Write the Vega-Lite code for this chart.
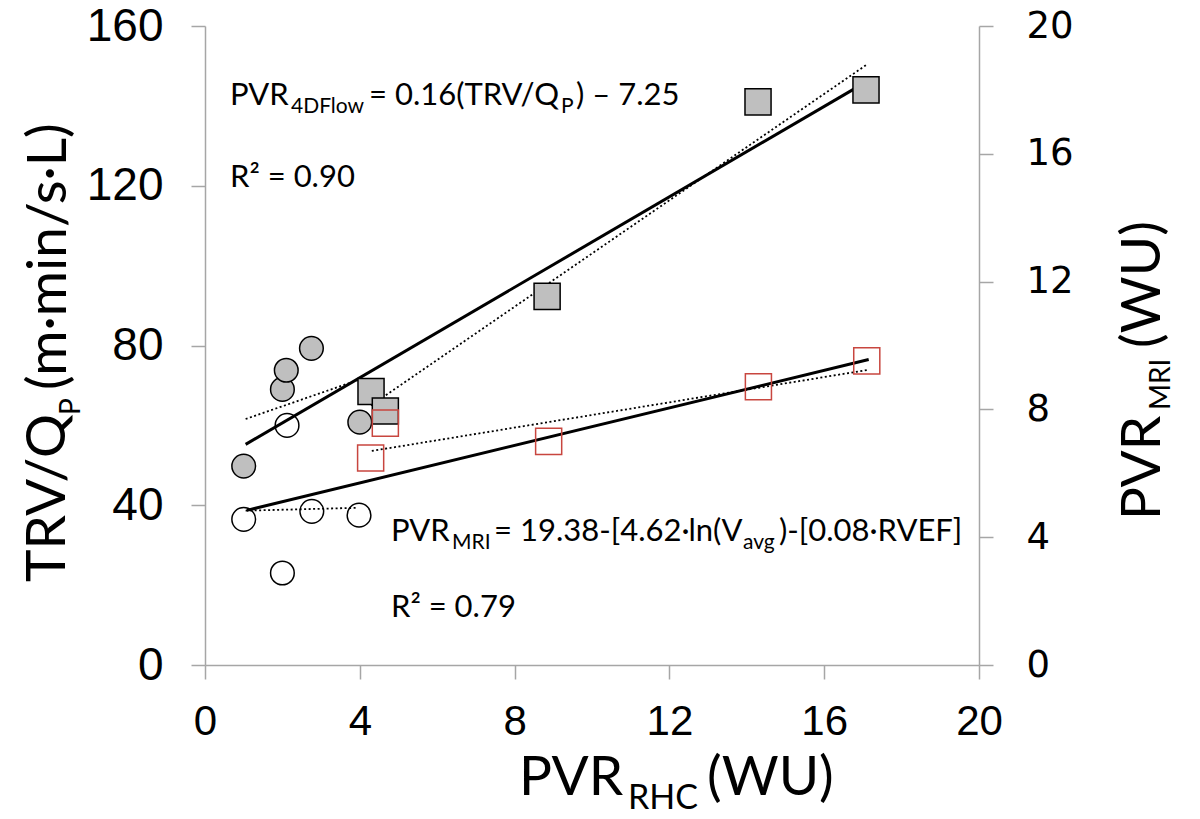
{
"$schema":"https://vega.github.io/schema/vega-lite/v6.json",
"width":774,"height":639,
"autosize":{"type":"none"},
"padding":{"left":205,"top":26,"right":221,"bottom":154},
"background":"white",
"config":{"view":{"stroke":null},"font":"Lato","axis":{"grid":false,"labelColor":"black","domainColor":"#a6a6a6","tickColor":"#a6a6a6","domainWidth":1.5,"tickWidth":1.5,"tickSize":14,"labelFlush":false,"labelOverlap":false,"title":null}},
"datasets":{
"gc":[{"x":1.0,"y":49.8},{"x":2.0,"y":69.0},{"x":2.1,"y":73.8},{"x":2.75,"y":79.3},{"x":4.0,"y":60.8}],
"gs":[{"x":4.29,"y":68.5},{"x":4.66,"y":63.6},{"x":8.84,"y":92.3},{"x":14.29,"y":141.0},{"x":17.08,"y":144.0}],
"oc":[{"x":1.0,"y":4.56},{"x":2.12,"y":7.5},{"x":2.0,"y":2.88},{"x":2.76,"y":4.81},{"x":3.98,"y":4.69}],
"rs":[{"x":4.28,"y":6.48},{"x":4.66,"y":7.57},{"x":8.88,"y":7.0},{"x":14.3,"y":8.71},{"x":17.1,"y":9.52}],
"lfit":[{"seg":"all","x":1.05,"y":55.25},{"seg":"all","x":17.13,"y":146.25},{"seg":"circles","x":1.05,"y":61.6},{"seg":"circles","x":4.0,"y":71.5},{"seg":"squares","x":4.29,"y":65.0},{"seg":"squares","x":17.08,"y":150.2}],
"rfit":[{"seg":"all","x":1.08,"y":4.84},{"seg":"all","x":17.15,"y":9.56},{"seg":"circles","x":1.05,"y":4.83},{"seg":"circles","x":3.95,"y":4.92},{"seg":"squares","x":4.31,"y":6.70},{"seg":"squares","x":17.15,"y":9.24}],
"annMain":[{"t":"PVR","x":0.646,"y":140.2},{"t":"= 0.16(TRV/Q","x":4.238,"y":140.2},{"t":") – 7.25","x":9.587,"y":140.2},{"t":"R² = 0.90","x":0.646,"y":119.7},{"t":"PVR","x":4.806,"y":31.05},{"t":"= 19.38-[4.62·ln(V","x":7.468,"y":31.05},{"t":")-[0.08·RVEF]","x":14.832,"y":31.05},{"t":"R² = 0.79","x":4.806,"y":12.02}],
"annSub":[{"t":"4DFlow","x":2.222,"y":138.2},{"t":"P","x":9.199,"y":138.2},{"t":"MRI","x":6.382,"y":29.04},{"t":"avg","x":13.902,"y":29.04}],
"vTitleMain":[{"t":"TRV/Q","x":-3.618,"y":20.78},{"t":"(m·min/s·L)","x":-3.592,"y":68.85},{"t":"PVR","x":24.677,"y":36.3},{"t":"(WU)","x":24.677,"y":79.4}],
"vTitleSub":[{"t":"P","x":-3.23,"y":62.59},{"t":"MRI","x":24.935,"y":63.85}],
"xTitleMain":[{"t":"PVR","x":8.114,"y":-32.6},{"t":"(WU)","x":12.972,"y":-32.6}],
"xTitleSub":[{"t":"RHC","x":10.93,"y":-36.1}]
},
"encoding":{"x":{"field":"x","type":"quantitative","scale":{"domain":[0,20],"nice":false,"zero":false},"axis":{"values":[0,4,8,12,16,20],"labelFont":"Liberation Sans","labelFontSize":42,"labelPadding":22,"title":null}}},
"layer":[
{"encoding":{"y":{"field":"y","type":"quantitative","scale":{"domain":[0,160],"nice":false},"axis":{"orient":"left","values":[0,40,80,120,160],"labelFont":"Liberation Sans","labelFontSize":46,"labelPadding":28,"title":null}}},
"layer":[
{"data":{"name":"lfit"},"transform":[{"filter":"datum.seg === 'all'"}],"mark":{"type":"line","color":"black","strokeWidth":3},"encoding":{}},
{"data":{"name":"lfit"},"transform":[{"filter":"datum.seg !== 'all'"}],"mark":{"type":"line","color":"black","strokeWidth":1.8,"strokeDash":[2,2.5]},"encoding":{"detail":{"field":"seg"}}},
{"data":{"name":"gc"},"mark":{"type":"point","shape":"circle","filled":true,"fill":"#bfbfbf","stroke":"black","strokeWidth":1.5,"size":560,"opacity":1}},
{"data":{"name":"gs"},"mark":{"type":"point","shape":"square","filled":true,"fill":"#bfbfbf","stroke":"black","strokeWidth":1.5,"size":680,"opacity":1}},
{"data":{"name":"annMain"},"mark":{"type":"text","font":"Lato","fontSize":31,"align":"left","baseline":"alphabetic","color":"black"},"encoding":{"text":{"field":"t"}}},
{"data":{"name":"annSub"},"mark":{"type":"text","font":"Lato","fontSize":21,"align":"left","baseline":"alphabetic","color":"black"},"encoding":{"text":{"field":"t"}}},
{"data":{"name":"vTitleMain"},"mark":{"type":"text","font":"Lato","fontSize":55,"align":"left","baseline":"alphabetic","angle":270,"color":"black"},"encoding":{"text":{"field":"t"}}},
{"data":{"name":"vTitleSub"},"mark":{"type":"text","font":"Lato","fontSize":28,"align":"left","baseline":"alphabetic","angle":270,"color":"black"},"encoding":{"text":{"field":"t"}}},
{"data":{"name":"xTitleMain"},"mark":{"type":"text","font":"Lato","fontSize":55,"align":"left","baseline":"alphabetic","color":"black"},"encoding":{"text":{"field":"t"}}},
{"data":{"name":"xTitleSub"},"mark":{"type":"text","font":"Lato","fontSize":34,"align":"left","baseline":"alphabetic","color":"black"},"encoding":{"text":{"field":"t"}}}
]},
{"encoding":{"y":{"field":"y","type":"quantitative","scale":{"domain":[0,20],"nice":false},"axis":{"orient":"right","values":[0,4,8,12,16,20],"labelFont":"DejaVu Sans","labelFontSize":37,"labelPadding":33,"title":null}}},
"layer":[
{"data":{"name":"rfit"},"transform":[{"filter":"datum.seg === 'all'"}],"mark":{"type":"line","color":"black","strokeWidth":3},"encoding":{}},
{"data":{"name":"rfit"},"transform":[{"filter":"datum.seg !== 'all'"}],"mark":{"type":"line","color":"black","strokeWidth":1.8,"strokeDash":[2,2.5]},"encoding":{"detail":{"field":"seg"}}},
{"data":{"name":"oc"},"mark":{"type":"point","shape":"circle","filled":false,"stroke":"black","strokeWidth":1.5,"size":560,"opacity":1}},
{"data":{"name":"rs"},"mark":{"type":"point","shape":"square","filled":false,"stroke":"#c8463f","strokeWidth":1.5,"size":680,"opacity":1}}
]}
],
"resolve":{"scale":{"y":"independent"},"axis":{"y":"independent"}}
}
